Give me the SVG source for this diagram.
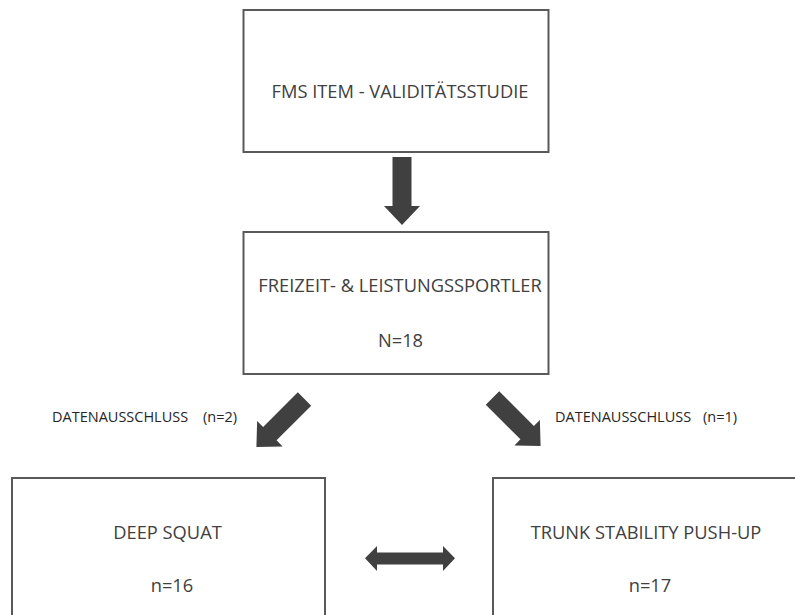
<svg xmlns="http://www.w3.org/2000/svg" width="795" height="615" viewBox="0 0 795 615">
<style>
.box{fill:#fff;stroke:#595959;stroke-width:2}
.t{font-family:"Open Sans","Liberation Sans",sans-serif;font-size:18.3px;fill:#404040;text-anchor:middle}
.l{font-family:"Open Sans","Liberation Sans",sans-serif;font-size:14.5px;fill:#262626}
.arr{fill:#404040}
</style>
<defs>
<path id="bigArrow" d="M0,-9.5 H49 V-18 L68,0 L49,18 V9.5 H0 Z"/>
</defs>
<rect width="795" height="615" fill="#fff"/>
<g id="node-fms">
<rect class="box" x="243.5" y="10" width="305" height="142"/>
<text class="t" x="400" y="98">FMS ITEM - VALIDITÄTSSTUDIE</text>
</g>
<g id="node-sportler">
<rect class="box" x="243.5" y="232" width="305" height="142"/>
<text class="t" x="400" y="292">FREIZEIT- &amp; LEISTUNGSSPORTLER</text>
<text class="t" x="400.5" y="347">N=18</text>
</g>
<g id="node-squat">
<rect class="box" x="12" y="478" width="313" height="160"/>
<text class="t" x="167.5" y="539">DEEP SQUAT</text>
<text class="t" x="172" y="592">n=16</text>
</g>
<g id="node-pushup">
<rect class="box" x="493" y="478" width="330" height="160"/>
<text class="t" x="646" y="539">TRUNK STABILITY PUSH-UP</text>
<text class="t" x="650" y="592">n=17</text>
</g>
<g id="connectors">
<use class="arr" href="#bigArrow" transform="translate(402,157) rotate(90)"/>
<use class="arr" href="#bigArrow" transform="translate(304.5,399) rotate(135)"/>
<use class="arr" href="#bigArrow" transform="translate(492.5,398) rotate(45)"/>
<path class="arr" d="M365,558.3 L377,546 V552.5 H443 V546 L455,558.3 L443,571 V564.5 H377 V571 Z"/>
<text class="l" x="52" y="422">DATENAUSSCHLUSS<tspan x="203">(n=2)</tspan></text>
<text class="l" x="555" y="422">DATENAUSSCHLUSS<tspan x="703">(n=1)</tspan></text>
</g>
</svg>
